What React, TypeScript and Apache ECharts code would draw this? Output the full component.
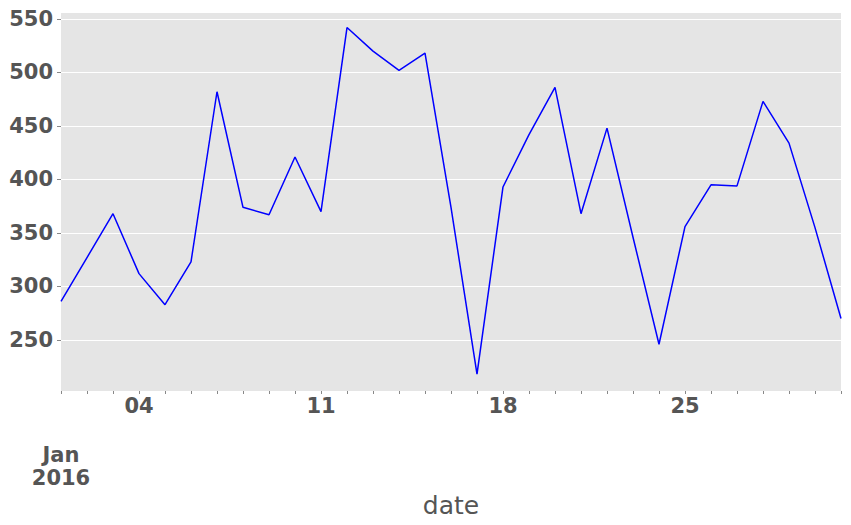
import React, { useEffect, useRef } from "react";
import * as echarts from "echarts";

const dates: string[] = Array.from({ length: 31 }, (_, i) => `2016-01-${String(i + 1).padStart(2, "0")}`);
const values: number[] = [
  286, 327, 368, 312, 283, 323, 482, 374, 367, 421, 370, 542, 520, 502, 518, 374,
  218, 393, 442, 486, 368, 448, 346, 246, 356, 395, 394, 473, 434, 355, 270,
];
const majorDays: string[] = ["04", "11", "18", "25"];
const yTicks: number[] = [250, 300, 350, 400, 450, 500, 550];
const yMin = 202.3;
const yMax = 555.6;
const monthLabel = "Jan\n2016";
const xName = "date";

const FONT = "DejaVu Sans";
const GREY = "#555555";

export default function App() {
  const ref = useRef<HTMLDivElement>(null);
  useEffect(() => {
    if (!ref.current) return;
    const chart = echarts.init(ref.current, null, { renderer: "svg" });
    chart.setOption({
      animation: false,
      backgroundColor: "#ffffff",
      grid: {
        left: 61,
        right: 10,
        top: 13,
        bottom: 134,
        show: true,
        backgroundColor: "#E5E5E5",
        borderWidth: 0,
      },
      xAxis: [
        {
          type: "category",
          data: dates,
          boundaryGap: false,
          axisLine: { show: false },
          axisTick: {
            show: true,
            interval: 0,
            length: 3,
            lineStyle: { color: "#888888", width: 1 },
          },
          axisLabel: {
            interval: (idx: number, val: string) => majorDays.includes(val.slice(8)),
            formatter: (val: string) => val.slice(8),
            fontFamily: FONT,
            fontWeight: "bold",
            fontSize: 21,
            color: GREY,
            margin: 4,
          },
          splitLine: { show: false },
          name: xName,
          nameLocation: "middle",
          nameGap: 102,
          nameTextStyle: { fontFamily: FONT, fontSize: 25, color: GREY },
        },
        {
          type: "category",
          data: dates,
          boundaryGap: false,
          position: "bottom",
          axisLine: { show: false },
          axisTick: { show: false },
          axisLabel: {
            interval: (idx: number) => idx === 0,
            formatter: () => monthLabel,
            fontFamily: FONT,
            fontWeight: "bold",
            fontSize: 21,
            lineHeight: 23,
            color: GREY,
            margin: 52,
          },
          splitLine: { show: false },
        },
      ],
      yAxis: {
        type: "value",
        min: yMin,
        max: yMax,
        splitNumber: 7,
        axisLine: { show: false },
        axisTick: {
          show: true,
          length: 4,
          lineStyle: { color: "#888888" },
          customValues: yTicks,
        },
        axisLabel: {
          customValues: yTicks,
          formatter: (v: number) => (yTicks.includes(Math.round(v * 1000) / 1000) ? String(v) : ""),
          fontFamily: FONT,
          fontWeight: "bold",
          fontSize: 21,
          color: GREY,
          margin: 8,
        },
        splitLine: { show: true, lineStyle: { color: "#ffffff", width: 1 } },
      },
      series: [
        {
          type: "line",
          data: values,
          xAxisIndex: 0,
          showSymbol: false,
          symbol: "none",
          lineStyle: { color: "#0000FF", width: 1.5 },
        },
      ],
    });
    return () => chart.dispose();
  }, []);
  return (
    <div
      ref={ref}
      style={{ position: "fixed", left: 0, top: 0, width: 851, height: 525 }}
    />
  );
}
